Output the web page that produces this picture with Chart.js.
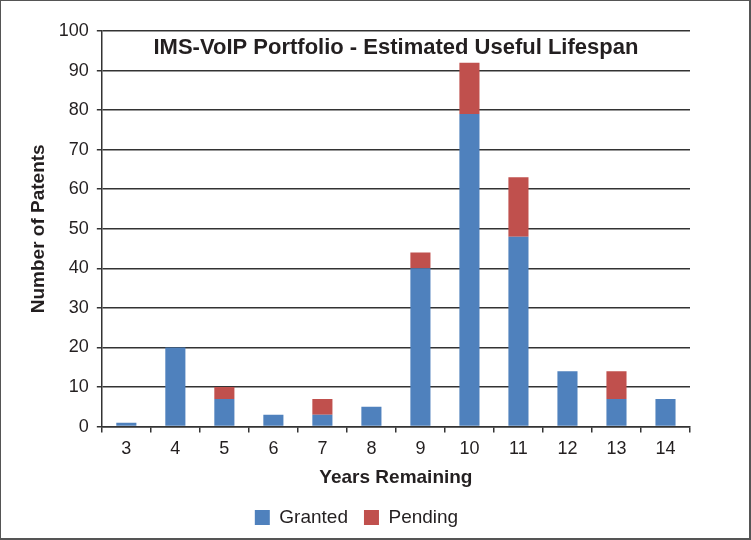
<html>
<head>
<script src="https://cdn.jsdelivr.net/npm/chart.js"></script>
<style type="text/css">
  body{
    margin:0;
    background:#fff;
  }
  #frame{
    width:751px;
    height:540px;
    box-sizing:border-box;
    border:1px solid #555;
    border-right-width:2px;
    border-bottom-width:2px;
  }
  #frame canvas{
    display:block;
  }
</style>
</head>
<body>
<div id="frame">
  <canvas id="lifespanChart" width="748" height="537"></canvas>
</div>

<script>
  const years = ['3','4','5','6','7','8','9','10','11','12','13','14'];
  const granted = [1, 20, 7, 3, 3, 5, 40, 79, 48, 14, 7, 7];
  const pending = [0, 0, 3, 0, 4, 0, 4, 13, 15, 0, 7, 0];
  const chartTitle = 'IMS-VoIP Portfolio - Estimated Useful Lifespan';

  const ink = '#231f20';
  const gridColor = '#333';
  const fontFamily = '"Liberation Sans", Arial, Helvetica, sans-serif';

  // title sits inside the plot area, above the bars
  const innerTitle = {
    id: 'innerTitle',
    afterDraw(chart){
      const ctx = chart.ctx;
      const area = chart.chartArea;
      ctx.save();
      ctx.font = 'bold 22px ' + fontFamily;
      ctx.fillStyle = ink;
      ctx.textAlign = 'center';
      ctx.textBaseline = 'middle';
      ctx.fillText(chartTitle, (area.left + area.right) / 2, area.top + 17);
      ctx.restore();
    }
  };

  new Chart(document.getElementById('lifespanChart'), {
    type: 'bar',
    data: {
      labels: years,
      datasets: [{
        label: 'Granted',
        data: granted,
        backgroundColor: '#4f81bd',
        borderWidth: 0
      }, {
        label: 'Pending',
        data: pending,
        backgroundColor: '#c0504d',
        borderWidth: 0
      }]
    },
    options: {
      responsive: false,
      animation: false,
      categoryPercentage: 1,
      barPercentage: 0.41,
      layout: {
        padding: {left: 22, right: 59, top: 30, bottom: 1}
      },
      plugins: {
        legend: {
          position: 'bottom',
          labels: {
            boxWidth: 15,
            boxHeight: 15,
            padding: 16,
            color: ink,
            font: {family: fontFamily, size: 19}
          }
        },
        tooltip: {enabled: false}
      },
      scales: {
        x: {
          stacked: true,
          grid: {
            offset: true,
            drawOnChartArea: false,
            drawTicks: true,
            tickLength: 6,
            color: gridColor,
            lineWidth: 1.5
          },
          border: {color: gridColor, width: 1.5},
          ticks: {
            color: ink,
            padding: 6,
            font: {family: fontFamily, size: 18}
          },
          title: {
            display: true,
            text: 'Years Remaining',
            color: ink,
            padding: {top: 0, bottom: 3},
            font: {family: fontFamily, size: 19, weight: 'bold'}
          }
        },
        y: {
          stacked: true,
          min: 0,
          max: 100,
          grid: {
            color: gridColor,
            lineWidth: 1.5,
            tickLength: 5
          },
          border: {color: gridColor, width: 1.5},
          ticks: {
            stepSize: 10,
            color: ink,
            padding: 8,
            font: {family: fontFamily, size: 18}
          },
          title: {
            display: true,
            text: 'Number of Patents',
            color: ink,
            padding: {top: 4, bottom: 1},
            font: {family: fontFamily, size: 19, weight: 'bold'}
          }
        }
      }
    },
    plugins: [innerTitle]
  });
</script>
</body>
</html>
